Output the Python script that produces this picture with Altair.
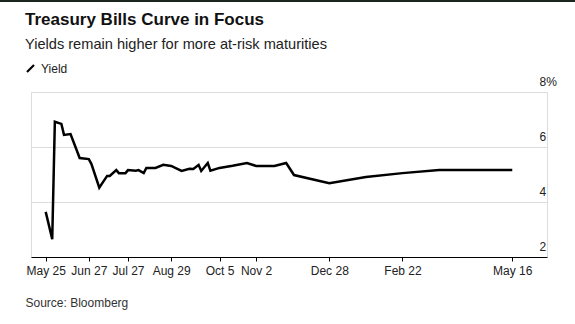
import altair as alt
import pandas as pd

dates = [
    "2023-05-25", "2023-05-30", "2023-06-01", "2023-06-06", "2023-06-08",
    "2023-06-13", "2023-06-20", "2023-06-27", "2023-06-29", "2023-07-05",
    "2023-07-11", "2023-07-13", "2023-07-18", "2023-07-20", "2023-07-25",
    "2023-07-27", "2023-08-02", "2023-08-04", "2023-08-08", "2023-08-10",
    "2023-08-17", "2023-08-23", "2023-08-29", "2023-09-06", "2023-09-12",
    "2023-09-15", "2023-09-19", "2023-09-21", "2023-09-26", "2023-09-28",
    "2023-10-05", "2023-10-15", "2023-10-26", "2023-11-02", "2023-11-16",
    "2023-11-25", "2023-12-01", "2023-12-28", "2024-01-25", "2024-02-22",
    "2024-03-21", "2024-05-16",
]
yields = [
    3.64, 2.65, 6.92, 6.84, 6.44,
    6.47, 5.60, 5.56, 5.38, 4.52,
    4.95, 4.95, 5.16, 5.05, 5.05,
    5.16, 5.14, 5.16, 5.05, 5.24,
    5.24, 5.35, 5.31, 5.13, 5.21,
    5.20, 5.35, 5.13, 5.42, 5.14,
    5.24, 5.32, 5.42, 5.31, 5.31,
    5.42, 4.98, 4.68, 4.91, 5.05,
    5.16, 5.16,
]
tick_dates = [(2023, 5, 25), (2023, 6, 27), (2023, 7, 27), (2023, 8, 29),
              (2023, 10, 5), (2023, 11, 2), (2023, 12, 28), (2024, 2, 22),
              (2024, 5, 16)]
y_ticks = [2, 4, 6, 8]

df = pd.DataFrame({"date": dates, "yield": yields, "series": "Yield"})

FONT = "Liberation Sans"

x_enc = alt.X(
    "date:T",
    scale=alt.Scale(
        type="utc",
        domain=[
            alt.DateTime(year=2023, month=5, date=13, hours=18, utc=True),
            alt.DateTime(year=2024, month=6, date=11, hours=14, utc=True),
        ],
    ),
    axis=alt.Axis(
        values=[alt.DateTime(year=y, month=m, date=d, utc=True) for y, m, d in tick_dates],
        labelExpr="utcFormat(datum.value, '%b %-d')",
        grid=False,
        domainColor="#000000",
        domainWidth=1,
        tickColor="#000000",
        tickSize=4,
        labelPadding=4,
        labelFontSize=12,
        labelColor="#222222",
        labelFont=FONT,
        labelOverlap=False,
        title="Source: Bloomberg",
        titleAnchor="start",
        titleAlign="left",
        titleBaseline="alphabetic",
        titleX=-6,
        titleY=49,
        titleFontSize=12,
        titleFontWeight="normal",
        titleColor="#333333",
        titleFont=FONT,
    ),
)

y_enc = alt.Y(
    "yield:Q",
    scale=alt.Scale(domain=[2, 8], nice=False, zero=False),
    axis=alt.Axis(
        orient="right",
        values=y_ticks,
        labelExpr="datum.value == 8 ? '8%' : datum.value",
        grid=True,
        gridColor="#dcdcdc",
        gridWidth=1,
        domain=False,
        ticks=False,
        labelAlign="left",
        labelBaseline="alphabetic",
        labelPadding=-8,
        labelOffset=-7,
        labelFontSize=12,
        labelColor="#222222",
        labelFont=FONT,
        title=None,
    ),
)

line = alt.Chart(df).mark_line(strokeWidth=2.5, strokeJoin="miter", clip=False).encode(
    x=x_enc,
    y=y_enc,
    color=alt.Color(
        "series:N",
        scale=alt.Scale(range=["#000000"]),
        legend=alt.Legend(
            title=None,
            orient="none",
            legendX=-7,
            legendY=-30,
            symbolType="M-0.7,0.7L0.7,-0.7",
            symbolStrokeWidth=2.2,
            symbolSize=100,
            symbolStrokeColor="#000000",
            labelFontSize=12,
            labelFont=FONT,
            labelColor="#222222",
            labelOffset=4,
        ),
    ),
)

top_bar = alt.Chart(df).mark_rule(color="#1c261e", strokeWidth=2).encode(
    x=alt.value(-31), x2=alt.value(544), y=alt.value(-91)
)

chart = alt.layer(top_bar, line).properties(
    width=516,
    height=165,
    padding={"left": 31, "top": 92, "right": 28, "bottom": 67},
    autosize=alt.AutoSizeParams(type="none"),
    title=alt.TitleParams(
        text="Treasury Bills Curve in Focus",
        subtitle="Yields remain higher for more at-risk maturities",
        anchor="start",
        frame="group",
        dx=-6,
        offset=-53,
        font=FONT,
        fontSize=17,
        fontWeight="bold",
        color="#111111",
        subtitleFont=FONT,
        subtitleFontSize=14.6,
        subtitleColor="#222222",
        subtitlePadding=8,
    ),
).configure_view(stroke=None).configure(background="white")

chart.save("out.html", embed_options={"renderer": "svg", "actions": False})
